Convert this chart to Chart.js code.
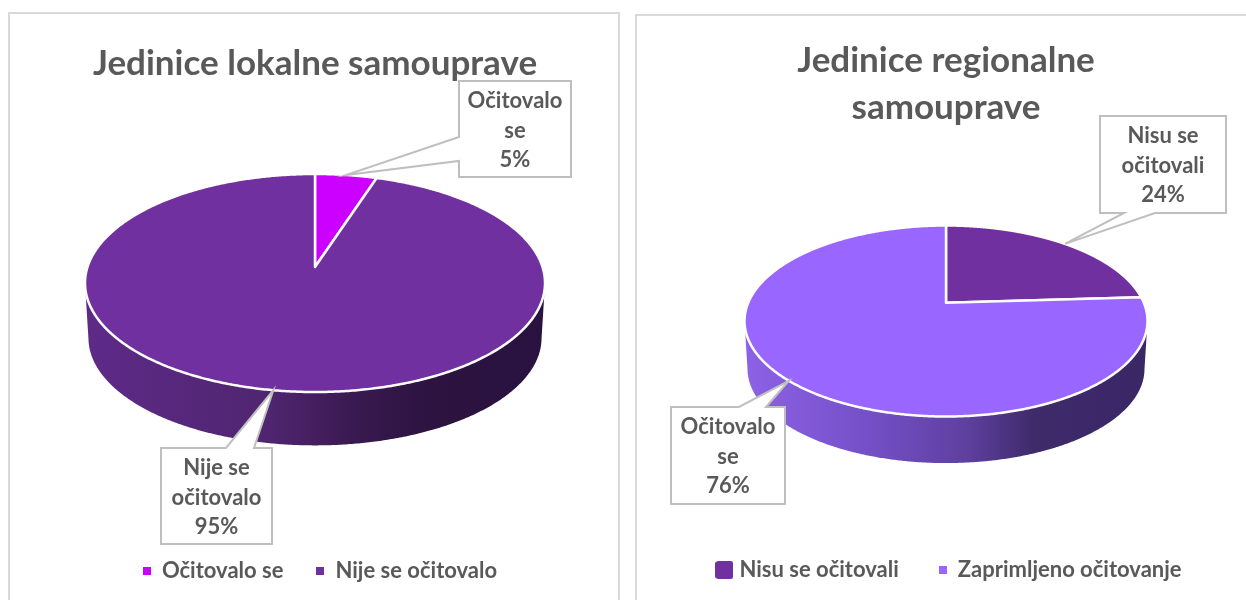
<!DOCTYPE html>
<html>
<head>
<meta charset="utf-8">
<title>Jedinice samouprave</title>
<script src="https://cdn.jsdelivr.net/npm/chart.js@4/dist/chart.umd.min.js"></script>
<style>
  html, body { margin: 0; background: #fff; overflow: hidden; }
  .panel { position: absolute; border: 2px solid #d9d9d9; background: #fff; box-sizing: border-box; }
  #panelLeft { left: 8px; top: 12px; width: 612px; height: 600px; }
  #panelRight { left: 635px; top: 14px; width: 620px; height: 600px; }
  canvas { position: absolute; top: 0; }
  #chartLeft { left: 0; }
  #chartRight { left: 646px; }
</style>
</head>
<body>
<div class="panel" id="panelLeft"></div>
<div class="panel" id="panelRight"></div>
<canvas id="chartLeft" width="630" height="600"></canvas>
<canvas id="chartRight" width="600" height="600"></canvas>
<script>
// data
const localLabels = ['Očitovalo se', 'Nije se očitovalo']
const localValues = [5, 95]
const localColors = ['#cc00ff', '#7030a0']
const localCallouts = [['Očitovalo', 'se'], ['Nije se', 'očitovalo']]

const regionalLabels = ['Nisu se očitovali', 'Zaprimljeno očitovanje']
const regionalValues = [24, 76]
const regionalColors = ['#7030a0', '#9966ff']
const regionalCallouts = [['Nisu se', 'očitovali'], ['Očitovalo', 'se']]

const textColor = '#595959'
const fontFamily = 'Lato, Carlito, sans-serif'

// circle point -> point on the tilted top of the pie (center is pushed back by k)
function project(angle, k) {
  const px = Math.sin(angle), py = Math.cos(angle)
  const d = 1 + k * py
  return { u: px * Math.sqrt(1 - k * k) / d, v: (py + k) / d }
}

function anglesOf(arc) {
  return [arc.startAngle + Math.PI / 2, arc.endAngle + Math.PI / 2]
}

function drawWall(ctx, arc, opts, stops) {
  const [a0, a1] = anglesOf(arc)
  const r = arc.outerRadius, ry = r * opts.tilt
  const rb = r * opts.bottomScale, ryb = ry * opts.bottomScale
  const top = [], bottom = []
  for (let i = 0; i <= 720; i++) {
    const p = project(a0 + (a1 - a0) * i / 720, opts.perspective)
    if (p.v > 0) continue
    top.push([arc.x + r * p.u, arc.y - ry * p.v])
    bottom.push([arc.x + rb * p.u, arc.y + opts.depth - ryb * p.v])
  }
  if (!top.length) return
  const grad = ctx.createLinearGradient(arc.x - r, 0, arc.x + r, 0)
  stops.forEach(s => grad.addColorStop(s[0], s[1]))
  ctx.beginPath()
  top.forEach((p, i) => i ? ctx.lineTo(p[0], p[1]) : ctx.moveTo(p[0], p[1]))
  bottom.reverse().forEach(p => ctx.lineTo(p[0], p[1]))
  ctx.closePath()
  ctx.fillStyle = grad
  ctx.fill()
}

function drawSlice(ctx, arc, color, opts) {
  const [a0, a1] = anglesOf(arc)
  const r = arc.outerRadius, ry = r * opts.tilt
  ctx.beginPath()
  ctx.moveTo(arc.x, arc.y - ry * opts.perspective)
  for (let i = 0; i <= 720; i++) {
    const p = project(a0 + (a1 - a0) * i / 720, opts.perspective)
    ctx.lineTo(arc.x + r * p.u, arc.y - ry * p.v)
  }
  ctx.closePath()
  ctx.fillStyle = color
  ctx.fill()
  ctx.strokeStyle = '#fff'
  ctx.lineWidth = 2.5
  ctx.lineJoin = 'round'
  ctx.stroke()
}

function drawCallout(ctx, arc, opts, box, lines) {
  const [a0, a1] = anglesOf(arc)
  const p = project((a0 + a1) / 2, opts.perspective)
  const tipX = arc.x + arc.outerRadius * p.u
  const tipY = arc.y - arc.outerRadius * opts.tilt * p.v
  const l = box.x, t = box.y, r = box.x + box.w, b = box.y + box.h
  ctx.beginPath()
  ctx.moveTo(l, t)
  if (box.side === 'top') { ctx.lineTo(box.base[0], t); ctx.lineTo(tipX, tipY); ctx.lineTo(box.base[1], t) }
  ctx.lineTo(r, t)
  ctx.lineTo(r, b)
  if (box.side === 'bottom') { ctx.lineTo(box.base[1], b); ctx.lineTo(tipX, tipY); ctx.lineTo(box.base[0], b) }
  ctx.lineTo(l, b)
  if (box.side === 'left') { ctx.lineTo(l, box.base[1]); ctx.lineTo(tipX, tipY); ctx.lineTo(l, box.base[0]) }
  ctx.closePath()
  ctx.fillStyle = '#fff'
  ctx.fill()
  ctx.strokeStyle = '#bfbfbf'
  ctx.lineWidth = 2
  ctx.stroke()
  ctx.fillStyle = textColor
  ctx.font = 'bold ' + opts.labelSize + 'px ' + fontFamily
  ctx.textAlign = 'center'
  ctx.textBaseline = 'middle'
  lines.forEach((line, i) => ctx.fillText(line, (l + r) / 2, t + 20 + i * 29.5))
}

const pie3d = {
  id: 'pie3d',
  afterLayout(chart, args, opts) {
    // the legend sits lower than chart.js would put it
    chart.legend.left += opts.legendDx
    chart.legend.right += opts.legendDx
    chart.legend.top += opts.legendDy
    chart.legend.bottom += opts.legendDy
  },
  beforeDatasetDraw(chart, args, opts) {
    const ctx = chart.ctx
    const arcs = chart.getDatasetMeta(0).data
    ctx.save()
    arcs.forEach((arc, i) => drawWall(ctx, arc, opts, opts.wallStops[i]))
    arcs.forEach((arc, i) => drawSlice(ctx, arc, chart.data.datasets[0].backgroundColor[i], opts))
    ctx.restore()
    return false
  },
  afterDraw(chart, args, opts) {
    const ctx = chart.ctx
    const values = chart.data.datasets[0].data
    ctx.save()
    chart.getDatasetMeta(0).data.forEach((arc, i) => {
      drawCallout(ctx, arc, opts, opts.boxes[i], opts.callouts[i].concat(values[i] + '%'))
    })
    ctx.restore()
  }
}

function swatch(color, size, round) {
  const c = document.createElement('canvas')
  c.width = size
  c.height = size
  const g = c.getContext('2d')
  g.fillStyle = color
  g.beginPath()
  g.roundRect(0, 0, size, size, round)
  g.fill()
  return c
}

function makeChart(id, title, labels, values, colors, radius, swatches, pad, pieOpts) {
  return new Chart(document.getElementById(id), {
    type: 'pie',
    data: { labels: labels, datasets: [{ data: values, backgroundColor: colors, borderWidth: 0, radius: radius }] },
    plugins: [pie3d],
    options: {
      responsive: false,
      animation: false,
      devicePixelRatio: 1,
      layout: { padding: { bottom: pad.bottom } },
      plugins: {
        tooltip: { enabled: false },
        title: {
          display: true,
          text: title,
          color: textColor,
          font: { family: fontFamily, size: 35, weight: 'bold', lineHeight: pad.titleLine },
          padding: { top: pad.titleTop, bottom: 0 }
        },
        legend: {
          position: 'bottom',
          labels: {
            color: textColor,
            font: { family: fontFamily, size: 22, weight: 'bold' },
            usePointStyle: true,
            pointStyleWidth: 8,
            padding: pad.legend,
            generateLabels: () => labels.map((text, i) => ({
              text: text,
              fontColor: textColor,
              fillStyle: colors[i],
              strokeStyle: colors[i],
              lineWidth: 0,
              hidden: false,
              index: i,
              pointStyle: swatch(colors[i], swatches[i][0], swatches[i][1])
            }))
          }
        },
        pie3d: pieOpts
      }
    }
  })
}

makeChart('chartLeft', 'Jedinice lokalne samouprave', localLabels, localValues, localColors, 230,
  [[8, 0], [8, 0]],
  { bottom: 54, titleTop: 43, titleLine: 1.2, legend: 33 },
  {
    tilt: 0.474, perspective: 0.147, depth: 55, bottomScale: 0.985, labelSize: 22,
    legendDx: 5, legendDy: 46,
    wallStops: [
      [[0, '#8a00ad'], [1, '#4d0060']],
      [[0, '#5e2a88'], [0.4, '#4f2570'], [0.6, '#38194f'], [0.75, '#2c1340'], [1, '#2a1240']]
    ],
    callouts: localCallouts,
    boxes: [
      { x: 459, y: 81, w: 112, h: 96, side: 'left', base: [137, 161] },
      { x: 161, y: 448, w: 111, h: 96, side: 'top', base: [226, 254] }
    ]
  })

makeChart('chartRight', ['Jedinice regionalne', 'samouprave'], regionalLabels, regionalValues, regionalColors, 201.5,
  [[18, 3], [8, 0]],
  { bottom: 17, titleTop: 37, titleLine: 1.343, legend: 40 },
  {
    tilt: 0.474, perspective: 0.19, depth: 48, bottomScale: 0.985, labelSize: 22,
    legendDx: 5, legendDy: 8,
    wallStops: [
      [[0, '#5e2a88'], [1, '#2a1240']],
      [[0, '#8d62e6'], [0.3, '#7550c8'], [0.55, '#5e40a0'], [0.72, '#3f2a6a'], [1, '#3a2766']]
    ],
    callouts: regionalCallouts,
    boxes: [
      { x: 454, y: 116, w: 126, h: 97, side: 'bottom', base: [478, 509] },
      { x: 25, y: 407, w: 114, h: 97, side: 'top', base: [93, 120] }
    ]
  })
</script>
</body>
</html>
